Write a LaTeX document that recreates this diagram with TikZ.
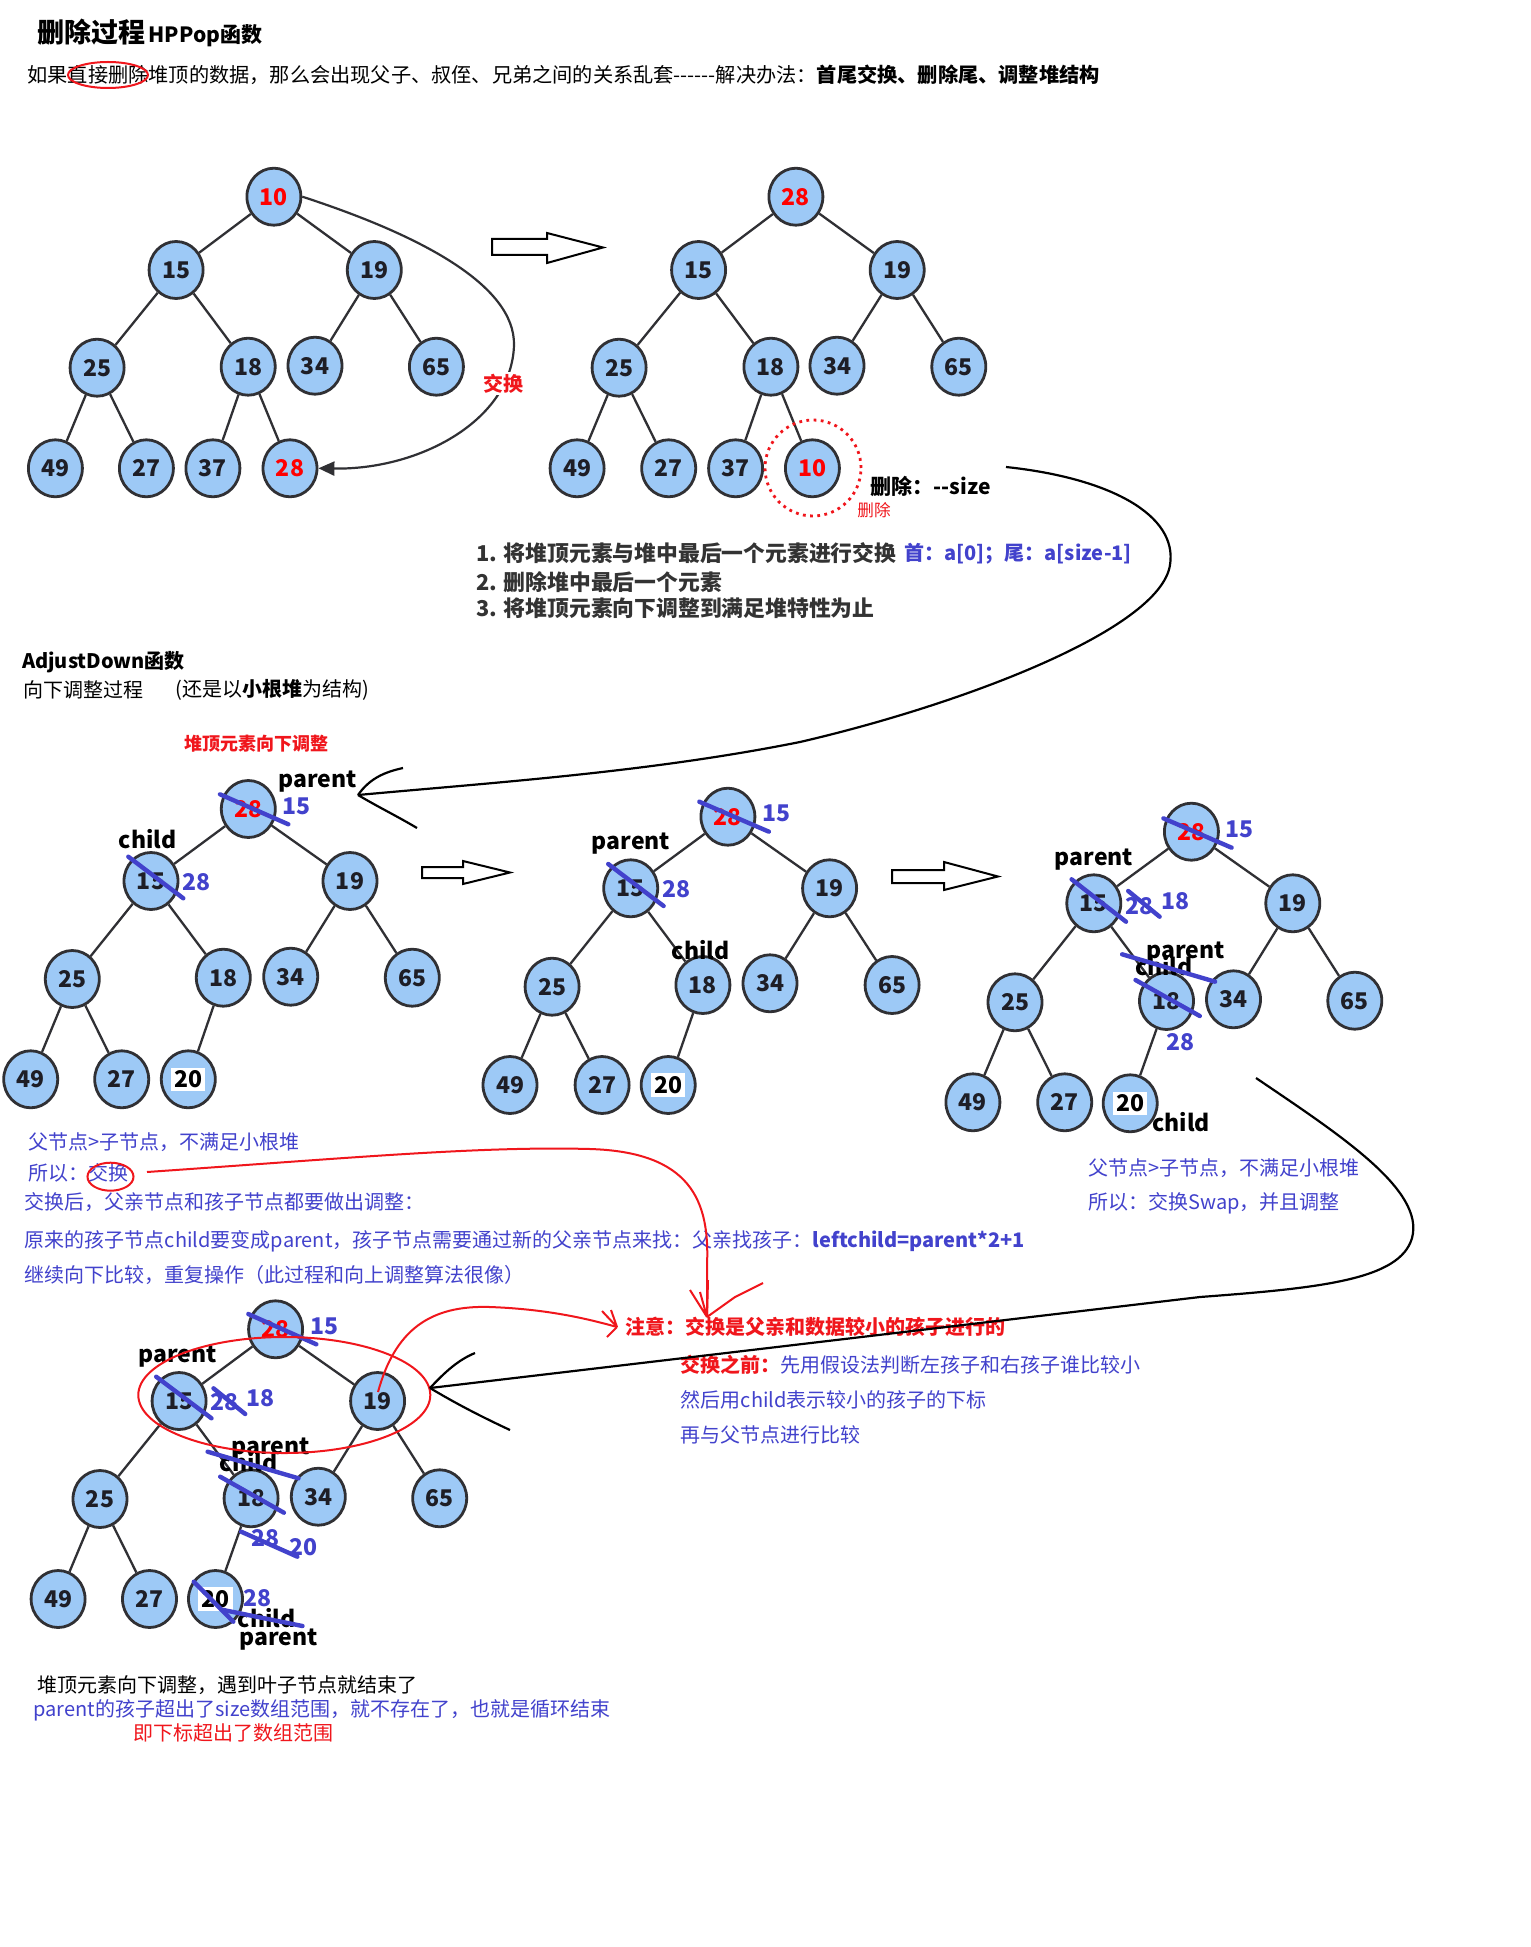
\documentclass[tikz,border=0pt]{standalone}
\usepackage{fontspec}
\setmainfont{Noto Sans CJK SC}
\usetikzlibrary{shapes.geometric,arrows.meta}
\definecolor{nfill}{RGB}{157,201,246}
\definecolor{nline}{RGB}{48,48,52}
\definecolor{ink}{RGB}{30,30,38}
\definecolor{hblue}{RGB}{66,66,204}
\definecolor{hred}{RGB}{240,22,28}
\definecolor{dgray}{RGB}{51,51,51}
\newcommand\wbox[1]{{\setlength{\fboxsep}{1.5pt}\colorbox{white}{\color{black}#1}}}
\tikzset{
 hn/.style={ellipse, draw=nline, line width=1.4pt, fill=nfill, minimum width=27pt, minimum height=28.5pt, inner sep=0pt, font=\fontsize{11.5}{12}\selectfont\bfseries, text=ink},
 rn/.style={hn, text=red},
 hedge/.style={draw=nline, line width=1.15pt},
 xout/.style={draw=hblue, line width=2.2pt, line cap=round},
 bnum/.style={font=\fontsize{11.5}{12}\selectfont\bfseries, text=hblue, inner sep=0pt, anchor=west},
 lbl/.style={font=\fontsize{11.5}{12}\selectfont\bfseries, text=black, inner sep=0pt, anchor=west},
 txt/.style={font=\fontsize{10}{12}\selectfont, inner sep=0pt, anchor=west, text=black},
 btxt/.style={txt, text=hblue},
 stxt/.style={txt, font=\fontsize{10.9}{13}\selectfont\bfseries, text=dgray},
 redline/.style={draw=hred, line width=1pt},
 skl/.style={draw=black, line width=1.1pt},
 harrow/.style={draw=black, line width=1pt, fill=white, line join=miter},
}
\newcommand\heapedges[1]{\draw[hedge] (#1-1)--(#1-2) (#1-1)--(#1-3) (#1-2)--(#1-4) (#1-2)--(#1-5) (#1-3)--(#1-6) (#1-3)--(#1-7) (#1-4)--(#1-8) (#1-4)--(#1-9) (#1-5)--(#1-10);}
\begin{document}
\begin{tikzpicture}[x=0.5pt,y=-0.5pt]
\useasboundingbox[fill=white] (0,0) rectangle (1530,1947);

% ---------- header ----------
\node[txt] (t1) at (37,33) {{\fontsize{13.5}{16}\selectfont\bfseries 删除过程}\,{\fontsize{10.5}{12}\selectfont\bfseries HPPop函数}};
\node[txt, font=\fontsize{10.1}{12}\selectfont] (t2) at (27,75) {如果直接删除堆顶的数据，那么会出现父子、叔侄、兄弟之间的关系乱套-{}-{}-{}-{}-{}-解决办法：\textbf{首尾交换、删除尾、调整堆结构}};
\draw[redline] (108,75) ellipse [x radius=20pt, y radius=6.5pt];

% ---------- tree 1 ----------
\node[rn] (a-1) at (273.9,196.7) {10};
\node[hn] (a-2) at (176.1,270) {15};
\node[hn] (a-3) at (374.3,270) {19};
\node[hn] (a-4) at (97.1,367.7) {25};
\node[hn] (a-5) at (248.2,366.7) {18};
\node[hn] (a-6) at (315,365.7) {34};
\node[hn] (a-7) at (436.4,366.7) {65};
\node[hn] (a-8) at (55.4,468.3) {49};
\node[hn] (a-9) at (146.4,468.3) {27};
\node[hn] (a-10) at (212.9,468.3) {37};
\node[rn] (a-11) at (290,468.3) {28};
\heapedges{a}
\draw[hedge] (a-5)--(a-11);
\draw[draw=nline, line width=1.1pt, -{Triangle[length=8pt,width=7pt]}] (a-1.east) .. controls (420,235) and (515,285) .. (514,345) .. controls (512,420) and (420,470) .. (a-11.east);
\node[font=\fontsize{10}{12}\selectfont\bfseries, text=hred, fill=white, inner sep=1pt] (swap) at (503.6,383.3) {交换};

% hollow arrow 1
\draw[harrow] (492,239) -- (547,239) -- (547,233) -- (603,247.5) -- (547,263) -- (547,255) -- (492,255) -- cycle;

% ---------- tree 2 ----------
\node[rn] (b-1) at (795.9,196.7) {28};
\node[hn] (b-2) at (698.6,270) {15};
\node[hn] (b-3) at (897.2,270) {19};
\node[hn] (b-4) at (619.1,367.7) {25};
\node[hn] (b-5) at (770.9,366.7) {18};
\node[hn] (b-6) at (837,365.7) {34};
\node[hn] (b-7) at (958.8,366.7) {65};
\node[hn] (b-8) at (577.1,468.3) {49};
\node[hn] (b-9) at (668.7,468.3) {27};
\node[hn] (b-10) at (735.6,468.3) {37};
\node[rn] (b-11) at (812.4,468.3) {10};
\heapedges{b}
\draw[hedge] (b-5)--(b-11);
\draw[hred, line width=1.4pt, dash pattern=on 1.4pt off 2.2pt] (813,468) circle [radius=24pt];
\node[txt, font=\fontsize{10.5}{12}\selectfont\bfseries] (del) at (870.4,486.7) {删除：-{}-size};
\node[txt, font=\fontsize{8.3}{10}\selectfont, text=hred] (del2) at (857,510) {删除};

% ---------- steps ----------
\node[stxt] (l1) at (476,553.3) {1. 将堆顶元素与堆中最后一个元素进行交换};
\node[txt, font=\fontsize{10}{12}\selectfont\bfseries, text=hblue] (l1b) at (904,553.3) {首：a[0]；尾：a[size-1]};
\node[stxt] (l2) at (476,581.7) {2. 删除堆中最后一个元素};
\node[stxt] (l3) at (476,608.3) {3. 将堆顶元素向下调整到满足堆特性为止};

% ---------- AdjustDown ----------
\node[txt, font=\fontsize{10}{12}\selectfont\bfseries] (ad) at (21.7,661.7) {AdjustDown函数};
\node[txt] (xd) at (22.7,690) {向下调整过程};
\node[txt] (hs) at (175,690) {(还是以\textbf{小根堆}为结构)};
\node[txt, font=\fontsize{9}{11}\selectfont\bfseries, text=hred] (rd) at (184.3,743.3) {堆顶元素向下调整};

% ---------- tree 3 ----------
\node[rn] (c-1) at (248.3,809) {28};
\node[hn] (c-2) at (151,881) {15};
\node[hn] (c-3) at (350,881) {19};
\node[hn] (c-4) at (72.3,979) {25};
\node[hn] (c-5) at (223.3,977.7) {18};
\node[hn] (c-6) at (290.7,976.7) {34};
\node[hn] (c-7) at (412.3,977.7) {65};
\node[hn] (c-8) at (30.7,1079.3) {49};
\node[hn] (c-9) at (121.7,1079.3) {27};
\node[hn] (c-10) at (188.3,1079.3) {\wbox{20}};
\heapedges{c}
\node[lbl] (c-p) at (278.3,781.7) {parent};
\node[bnum] (c-n1) at (281.7,806.7) {15};
\node[lbl] (c-c) at (118.3,839.3) {child};
\node[bnum] (c-n2) at (181.7,881.7) {28};
\draw[xout] (220,794.3) -- (288.3,824.3);
\draw[xout] (128.3,856.7) -- (183.3,898.3);

% hollow arrow 2
\draw[harrow] (422,867) -- (463,867) -- (463,861) -- (510,872.5) -- (463,884) -- (463,878) -- (422,878) -- cycle;

% ---------- tree 4 ----------
\node[rn] (d-1) at (727.9,816.7) {28};
\node[hn] (d-2) at (630.7,888.3) {15};
\node[hn] (d-3) at (829.6,888.3) {19};
\node[hn] (d-4) at (552.1,986.7) {25};
\node[hn] (d-5) at (702.9,985) {18};
\node[hn] (d-6) at (770,983.3) {34};
\node[hn] (d-7) at (892.1,985) {65};
\node[hn] (d-8) at (510,1085) {49};
\node[hn] (d-9) at (602.1,1085) {27};
\node[hn] (d-10) at (668.2,1085) {\wbox{20}};
\heapedges{d}
\node[bnum] (d-n1) at (761.8,813.3) {15};
\node[lbl] (d-p) at (591.4,843.3) {parent};
\node[bnum] (d-n2) at (661.8,889.3) {28};
\node[lbl] (d-c) at (671.4,950) {child};
\draw[xout] (699.3,801.7) -- (768.9,831.7);
\draw[xout] (608.2,864) -- (663.6,906);

% hollow arrow 3
\draw[harrow] (892,870) -- (944,870) -- (944,862) -- (998,876.5) -- (944,890) -- (944,883) -- (892,883) -- cycle;

% ---------- tree 5 ----------
\node[rn] (e-1) at (1191.4,831.7) {28};
\node[hn] (e-2) at (1093.8,903.3) {15};
\node[hn] (e-3) at (1292.8,903.3) {19};
\node[hn] (e-4) at (1015,1002.3) {25};
\node[hn] (e-5) at (1166.5,1001) {18};
\node[hn] (e-6) at (1233.5,999.3) {34};
\node[hn] (e-7) at (1354.8,1000.7) {65};
\node[hn] (e-8) at (972.9,1102.3) {49};
\node[hn] (e-9) at (1064.7,1102.3) {27};
\node[hn] (e-10) at (1130.2,1103.3) {\wbox{20}};
\heapedges{e}
\node[bnum] (e-n1) at (1224.7,829.3) {15};
\node[lbl] (e-p1) at (1054.4,859.3) {parent};
\node[bnum] (e-n2) at (1125.2,906) {28};
\node[bnum] (e-n3) at (1161.5,901) {18};
\node[lbl] (e-p2) at (1146.2,952.3) {parent};
\node[lbl] (e-c1) at (1134.7,965.7) {child};
\node[bnum] (e-n4) at (1166.1,1041.7) {28};
\node[lbl] (e-c2) at (1152,1121.7) {child};
\draw[xout] (1163.4,818.3) -- (1231.6,847.7);
\draw[xout] (1071.6,879.3) -- (1126,921.7);
\draw[xout] (1128.2,891) -- (1159.6,916.7);
\draw[xout] (1122.1,954.3) -- (1215.1,981.7);
\draw[xout] (1135.5,980) -- (1199.8,1016);
\node[btxt] (r1) at (1088,1168.6) {父节点>子节点，不满足小根堆};
\node[btxt] (r2) at (1088,1203.4) {所以：交换Swap，并且调整};

% ---------- left explanation ----------
\node[btxt] (b1) at (28,1141.7) {父节点>子节点，不满足小根堆};
\node[btxt] (b2) at (28,1173.3) {所以：交换};
\node[btxt] (b3) at (24.6,1201.7) {交换后，父亲节点和孩子节点都要做出调整：};
\node[btxt] (b4) at (24.6,1241.7) {原来的孩子节点child要变成parent，孩子节点需要通过新的父亲节点来找：父亲找孩子：\textbf{leftchild=parent*2+1}};
\node[btxt] (b5) at (24.6,1275) {继续向下比较，重复操作（此过程和向上调整算法很像）};
\draw[redline] (110.5,1176.7) ellipse [x radius=11.5pt, y radius=7pt];

% ---------- note ----------
\node[txt, font=\fontsize{10}{12}\selectfont\bfseries, text=hred] (z1) at (624.9,1326.7) {注意：交换是父亲和数据较小的孩子进行的};
\node[btxt] (z2) at (680.4,1365) {{\bfseries\color{hred}交换之前：}先用假设法判断左孩子和右孩子谁比较小};
\node[btxt] (z3) at (680.4,1400) {然后用child表示较小的孩子的下标};
\node[btxt] (z4) at (680.4,1435) {再与父节点进行比较};

% ---------- bottom tree ----------
\node[rn] (f-1) at (275.6,1329.3) {28};
\node[hn] (f-2) at (179.1,1401) {15};
\node[hn] (f-3) at (377.6,1401) {19};
\node[hn] (f-4) at (100,1499) {25};
\node[hn] (f-5) at (251.1,1498.3) {18};
\node[hn] (f-6) at (318.3,1496.7) {34};
\node[hn] (f-7) at (439.7,1498.3) {65};
\node[hn] (f-8) at (58.1,1599) {49};
\node[hn] (f-9) at (149.5,1599) {27};
\node[hn] (f-10) at (215.5,1599) {\wbox{20}};
\heapedges{f}
\node[bnum] (f-n1) at (310.4,1326.7) {15};
\node[lbl] (f-p1) at (138.4,1356.7) {parent};
\node[bnum] (f-n2) at (209.6,1401.7) {28};
\node[bnum] (f-n3) at (246,1398.3) {18};
\node[lbl] (f-p2) at (231.3,1448.3) {parent};
\node[lbl] (f-c1) at (219.5,1462.3) {child};
\node[bnum] (f-n4) at (251.1,1538.3) {28};
\node[bnum] (f-n5) at (288.7,1547.3) {20};
\node[bnum] (f-n6) at (243.2,1598.3) {28};
\node[lbl] (f-c2) at (237.3,1618.3) {child};
\node[lbl] (f-p3) at (239.2,1640) {parent};
\draw[xout] (248.3,1314) -- (316.3,1344.3);
\draw[xout] (156.2,1376.7) -- (211.5,1418.3);
\draw[xout] (213.5,1388.3) -- (245.2,1414);
\draw[xout] (207.6,1451.7) -- (298.5,1478.3);
\draw[xout] (220.2,1476.7) -- (283.9,1512.7);
\draw[xout] (241.2,1531.7) -- (297.4,1556.7);
\draw[xout] (193.8,1581.7) -- (233.3,1621.7);
\draw[xout] (223.4,1610) -- (302.5,1626);
\draw[redline] (284.3,1395) ellipse [x radius=73pt, y radius=29pt];

% ---------- bottom text ----------
\node[txt] (e1) at (37.3,1685) {堆顶元素向下调整，遇到叶子节点就结束了};
\node[btxt] (e2) at (33.2,1710) {parent的孩子超出了size数组范围，就不存在了，也就是循环结束};
\node[txt, text=hred] (e3) at (132.7,1733.3) {即下标超出了数组范围};

% ---------- long connectors ----------
\coordinate (c1s) at (1006,467);
\coordinate (c1t) at (358,795);
\draw[skl] (c1s) .. controls (1110,478) and (1178,515) .. (1170,565) .. controls (1160,630) and (960,705) .. (800,742) .. controls (650,772) and (500,782) .. (c1t);
\draw[skl] (c1t) .. controls (370,778) and (385,772) .. (403,768);
\draw[skl] (c1t) .. controls (380,808) and (395,815) .. (417,828);

\coordinate (c2s) at (1256,1078);
\coordinate (c2t) at (430,1388);
\draw[skl] (c2s) .. controls (1340,1135) and (1425,1190) .. (1412,1238) .. controls (1400,1280) and (1320,1288) .. (1200,1297) -- (c2t);
\draw[skl] (c2t) .. controls (445,1372) and (458,1360) .. (475,1353);
\draw[skl] (c2t) .. controls (455,1403) and (480,1416) .. (510,1430);

\coordinate (rAs) at (147,1172);
\coordinate (rAt) at (707,1317);
\draw[redline] (rAs) .. controls (350,1158) and (480,1146) .. (590,1149) .. controls (690,1152) and (710,1200) .. (707,1265) -- (rAt);
\draw[redline] (rAt) -- (690,1290) (rAt) -- (708,1280) (rAt) -- (700,1292) (rAt) -- (735,1297) -- (763,1283);

\coordinate (rBs) at (378,1392);
\coordinate (rBt) at (617,1327);
\draw[redline] (rBs) .. controls (395,1330) and (430,1305) .. (490,1307) .. controls (545,1309) and (585,1318) .. (rBt);
\draw[redline] (rBt) -- (602,1311) (rBt) -- (611,1310) (rBt) -- (607,1337);
\end{tikzpicture}
\end{document}
